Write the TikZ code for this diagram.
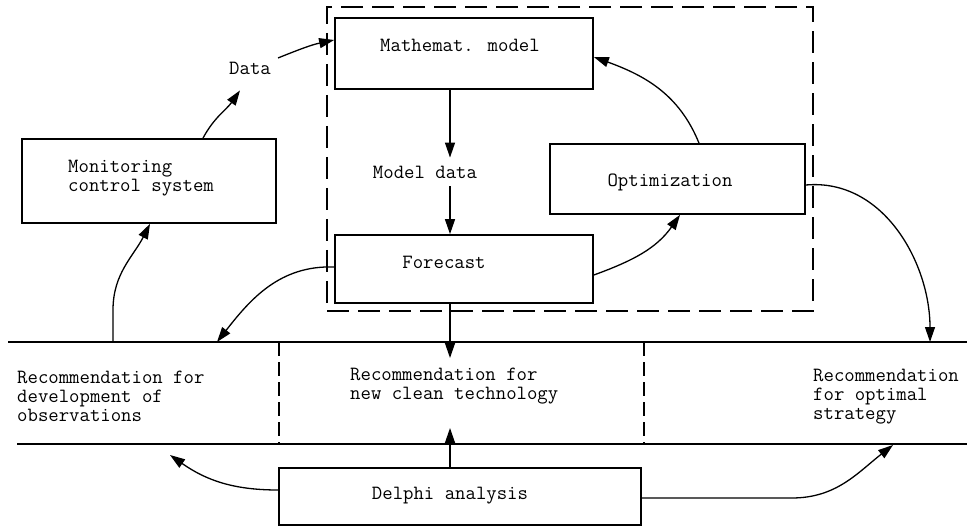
\documentclass[tikz,border=0pt]{standalone}
\usetikzlibrary{arrows.meta,calc}
\begin{document}
\begin{tikzpicture}[x=1pt,y=-1pt]
\tikzset{
 box/.style={draw,line width=1.7pt,inner sep=0pt},
 txt/.style={font=\ttfamily\fontsize{20.2}{19}\selectfont,inner sep=0pt,align=left},
 arr/.style={line width=1.3pt,-{Triangle[length=15pt,width=10pt]}},
 rule/.style={line width=1.7pt},
 dbox/.style={draw,line width=1.7pt,dash pattern=on 22pt off 9pt,inner sep=0pt},
 dsep/.style={line width=1.3pt,dash pattern=on 14pt off 6pt}
}
\useasboundingbox (0,0) rectangle (979,526);
% group
\node[dbox,minimum width=486pt,minimum height=304pt] (grp) at (570,159) {};
% boxes
\node[box,minimum width=258pt,minimum height=71pt] (math) at (464,53.5) {};
\node[txt] (tmath) at (460,45) {Mathemat. model};
\node[box,minimum width=255pt,minimum height=70pt] (opt) at (677.5,179) {};
\node[txt] (topt) at (670,182) {Optimization};
\node[box,minimum width=258pt,minimum height=68pt] (fore) at (464,269) {};
\node[txt] (tfore) at (444,262) {Forecast};
\node[box,minimum width=254pt,minimum height=84pt] (mon) at (149,181) {};
\node[txt,anchor=west] (tmon) at (68,178.5) {Monitoring\\control system};
\node[box,minimum width=362pt,minimum height=57pt] (del) at (460,496.5) {};
\node[txt] (tdel) at (450,496) {Delphi analysis};
\node[txt] (data) at (250,68) {Data};
\node[txt,inner sep=8pt] (md) at (425,172) {Model data};
% rules
\coordinate (tl) at (8,342); \coordinate (tr) at (967,342);
\coordinate (bl) at (17,444); \coordinate (br) at (967,444);
\draw[rule] (tl) -- (tr);
\draw[rule] (bl) -- (br);
\coordinate (s1t) at (279,342); \coordinate (s1b) at (279,444);
\coordinate (s2t) at (644,342); \coordinate (s2b) at (644,444);
\draw[dsep] (s1t) -- (s1b);
\draw[dsep] (s2t) -- (s2b);
% recommendations
\node[txt,anchor=west] (r1) at (17,396) {Recommendation for\\development of\\observations};
\node[txt,anchor=west] (r2) at (350,386) {Recommendation for\\new clean technology};
\node[txt,anchor=west] (r3) at (813,397) {Recommendation\\for optimal\\strategy};
% arrow end points
\coordinate (vx) at (450,0);
\coordinate (a1) at (113,342);
\coordinate (t1) at (217,342);
\coordinate (t2) at (450,358);
\coordinate (t3) at (930,342);
\coordinate (b1) at (170,455);
\coordinate (b2) at (450,428);
\coordinate (b3) at (893,445);
% connectors
\draw[arr] ([xshift=54pt]mon.north) to[out=62,in=235] ([xshift=-10pt,yshift=-16pt]data.south);
\draw[arr] ([xshift=7pt,yshift=10pt]data.east) to[out=22,in=192] ([yshift=13.5pt]math.west);
\draw[arr] (math.south -| vx) -- (md.north -| vx);
\draw[arr] (md.south -| vx) -- (fore.north -| vx);
\draw[arr] (fore.south -| vx) -- (t2);
\draw[arr] (del.north -| vx) -- (b2);
\draw[arr] ([yshift=2pt]fore.west) to[out=178,in=52] (t1);
\draw[arr] (a1) -- ++(0,-32) to[out=90,in=243] ([xshift=1pt]mon.south);
\draw[arr] ([yshift=-6pt]fore.east) to[out=20,in=235] ([xshift=2.5pt]opt.south);
\draw[arr] ([xshift=21.5pt]opt.north) to[out=112,in=-20] ([yshift=-3.5pt]math.east);
\draw[arr] ([yshift=-6pt]opt.east) to[out=5,in=90] (t3);
\draw[arr] ([yshift=6.5pt]del.west) to[out=180,in=-35] (b1);
\draw[arr] ([yshift=-1.5pt]del.east) -- ++(150,0) to[out=0,in=218] (b3);
\end{tikzpicture}
\end{document}
